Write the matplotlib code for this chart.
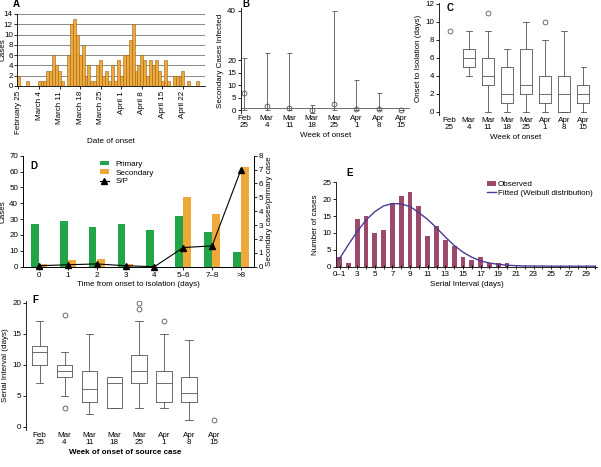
import numpy as np
import matplotlib.pyplot as plt

plt.rcParams['font.family'] = ['Liberation Sans', 'DejaVu Sans']
plt.rcParams['font.size'] = 5.8
plt.rcParams['axes.linewidth'] = 0.6
plt.rcParams['xtick.major.width'] = 0.6
plt.rcParams['ytick.major.width'] = 0.6
plt.rcParams['xtick.major.size'] = 2
plt.rcParams['ytick.major.size'] = 2
plt.rcParams['xtick.major.pad'] = 1.5
plt.rcParams['ytick.major.pad'] = 1.5
plt.rcParams['axes.labelpad'] = 2

# ---- data ----
# A: daily cases from February 25
a_cases = [2, 0, 0, 1, 0, 0, 0, 1, 1, 1, 3, 3, 6, 4, 3, 1, 0, 6, 12, 13, 10, 6, 8, 2,
           4, 1, 1, 4, 5, 2, 3, 1, 4, 1, 5, 2, 6, 6, 9, 12, 3, 4, 6, 5, 2, 5, 4, 5,
           3, 1, 5, 1, 0, 2, 2, 2, 3, 0, 1, 0, 0, 1]
a_tick_days = [0, 7, 14, 21, 28, 35, 42, 49, 56]
a_tick_labels = ['February 25', 'March 4', 'March 11', 'March 18', 'March 25',
                 'April 1', 'April 8', 'April 15', 'April 22']

weeks = ['Feb\n25', 'Mar\n4', 'Mar\n11', 'Mar\n18', 'Mar\n25', 'Apr\n1', 'Apr\n8', 'Apr\n15']

# B: secondary cases infected per week of onset
b_med = [7, 1.5, 1, 0, 2.5, 0.5, 0.5, 0]
b_low = [0, 0, 0, -1, 0, 0, 0, 0]
b_high = [21, 23, 23, 2, 40, 12, 7, 0]

# C: onset to isolation boxes (Mar 4 .. Apr 15), Feb 25 single value
c_lo = [4, 0, 0, 0, 0, 0, 0]
c_q1 = [5, 3, 1, 2, 1, 0, 1]
c_med = [6, 4, 2, 3, 2, 2, 2]
c_q3 = [7, 6, 5, 7, 4, 4, 3]
c_hi = [9, 9, 7, 10, 8, 9, 5]
c_out = [[], [11], [], [], [10], [], []]
c_single = 9

# D
d_cats = ['0', '1', '2', '3', '4', '5\u20136', '7\u20138', '>8']
d_primary = [27, 29, 25, 27, 23, 32, 22, 9]
d_secondary = [2, 4, 5, 2, 0, 44, 33, 63]
d_ratio = [0.07, 0.14, 0.2, 0.07, 0, 1.38, 1.5, 7.0]

# E
e_days = list(range(1, 21))
e_obs = [3, 1, 14, 15, 10, 11, 19, 21, 22, 18, 9, 12, 8, 6, 3, 2, 3, 1, 1, 1]
e_fit_x = [0.9, 2, 3, 4, 5, 6, 7, 8, 9, 10, 11, 12, 13, 14, 15, 16, 17, 18, 19, 20,
           21, 22, 24, 26, 28, 30]
e_fit_y = [2, 6.5, 10.4, 13.8, 16.3, 18, 18.7, 18.6, 17.8, 16, 14, 11.5, 8.8, 6.3,
           4.3, 2.8, 1.7, 1.1, 0.7, 0.45, 0.3, 0.22, 0.18, 0.15, 0.15, 0.15]
e_ticks = list(range(1, 30, 2))
e_tick_labels = ['0\u20131'] + [str(v) for v in range(3, 30, 2)]

# F: serial interval boxes (Feb 25 .. Apr 8), Apr 15 single value
f_lo = [7, 5, 2, 3, 3, 3, 1]
f_q1 = [10, 8, 4, 3, 7, 4, 4]
f_med = [12, 9, 6, 7, 9, 7, 5.5]
f_q3 = [13, 10, 9, 8, 11.5, 9, 8]
f_hi = [17, 12, 15, 8, 17, 15, 14]
f_out = [[], [18, 3], [], [], [19, 20], [17], []]
f_single = 1

W, H = 601, 467
fig = plt.figure(figsize=(W / 100, H / 100), dpi=100)


def box(l, t, r, b):
    return [l / W, 1 - b / H, (r - l) / W, (b - t) / H]


gray = '#555555'
orange = '#EFA93A'
green = '#22A548'

# ---- A ----
ax = fig.add_axes(box(17, 14, 205, 86))
ax.bar(range(len(a_cases)), a_cases, width=1.0, color=orange, edgecolor='#9A6418', lw=0.4)
for y in range(2, 16, 2):
    ax.axhline(y, color='#777777', lw=0.6, zorder=0)
ax.set_ylim(0, 14)
ax.set_xlim(-0.5, 63.5)
ax.set_yticks(range(0, 16, 2))
ax.tick_params(axis='y', pad=1)
ax.set_xticks(a_tick_days)
ax.set_xticklabels(a_tick_labels, rotation=90)
ax.set_ylabel('Cases')
ax.yaxis.set_label_coords(-0.057, 0.5)
ax.set_xlabel('Date of onset', labelpad=3)
for s in ['top', 'right']:
    ax.spines[s].set_visible(False)
ax.text(-0.02, 1.1, 'A', transform=ax.transAxes, fontsize=7, fontweight='bold')

# ---- B ----
ax = fig.add_axes(box(241, 8.5, 410, 112.5))
x = np.arange(len(weeks))
ax.axhline(1, color=gray, lw=0.6)
ax.errorbar(x, b_med, yerr=[np.array(b_med) - np.array(b_low), np.array(b_high) - np.array(b_med)],
            fmt='o', mfc='none', mec=gray, ms=3.5, ecolor=gray, elinewidth=0.6, capsize=1.8,
            capthick=0.6, mew=0.6)
ax.set_ylim(-1, 41)
ax.set_xlim(-0.15, 7.4)
ax.set_yticks([0, 5, 10, 15, 20, 40])
ax.set_xticks(x)
ax.set_xticklabels(weeks, linespacing=1.1)
ax.tick_params(axis='x', length=0)
ax.set_ylabel('Secondary Cases Infected')
ax.set_xlabel('Week of onset')
for s in ['top', 'right', 'bottom']:
    ax.spines[s].set_visible(False)
ax.text(0.01, 1.01, 'B', transform=ax.transAxes, fontsize=7, fontweight='bold')

# ---- C ----
ax = fig.add_axes(box(439, 3, 592, 114.7))
stats = [dict(whislo=c_lo[i], q1=c_q1[i], med=c_med[i], q3=c_q3[i], whishi=c_hi[i],
              fliers=c_out[i]) for i in range(len(c_lo))]
bp_kw = dict(widths=0.62, capwidths=0.3,
             boxprops=dict(color=gray, lw=0.6), medianprops=dict(color=gray, lw=0.6),
             whiskerprops=dict(color=gray, lw=0.6), capprops=dict(color=gray, lw=0.6),
             flierprops=dict(marker='o', mfc='none', mec=gray, ms=3.5, mew=0.6))
ax.bxp(stats, positions=range(1, 8), **bp_kw)
ax.plot([0], [c_single], 'o', mfc='none', mec=gray, ms=3.5, mew=0.6)
ax.set_ylim(-0.3, 12.1)
ax.set_xlim(-0.55, 7.45)
ax.set_yticks(range(0, 13, 2))
ax.set_xticks(range(8))
ax.set_xticklabels(weeks, linespacing=1.1)
ax.tick_params(axis='x', length=0)
ax.set_ylabel('Onset to Isolation (days)')
ax.set_xlabel('Week of onset')
for s in ['top', 'right', 'bottom']:
    ax.spines[s].set_visible(False)
ax.text(0.05, 0.93, 'C', transform=ax.transAxes, fontsize=7, fontweight='bold')

# ---- D ----
ax = fig.add_axes(box(23, 155.7, 254, 266.7))
x = np.arange(len(d_cats))
ax.bar(x - 0.14, d_primary, width=0.27, color=green, label='Primary')
ax.bar(x + 0.14, d_secondary, width=0.27, color=orange, label='Secondary')
ax.set_ylim(0, 70)
ax.set_xlim(-0.55, 7.45)
ax.set_yticks(range(0, 80, 10))
ax.set_xticks(x)
ax.set_xticklabels(d_cats)
ax.set_ylabel('Cases')
ax.set_xlabel('Time from onset to isolation (days)')
ax.spines['top'].set_visible(False)
ax2 = ax.twinx()
ax2.plot(x, d_ratio, '-^', color='black', lw=0.8, ms=4, label='S/P', clip_on=False)
ax2.set_ylim(0, 8)
ax2.set_yticks(range(0, 9))
ax2.set_ylabel('Secondary cases/primary case')
ax2.spines['top'].set_visible(False)
h1, l1 = ax.get_legend_handles_labels()
h2, l2 = ax2.get_legend_handles_labels()
ax.legend(h1 + h2, l1 + l2, loc='upper left', bbox_to_anchor=(0.3, 1.02), frameon=False,
          handlelength=1.2, handleheight=0.5, labelspacing=0.2, fontsize=5.8)
ax.text(0.03, 0.88, 'D', transform=ax.transAxes, fontsize=7, fontweight='bold')

# ---- E ----
ax = fig.add_axes(box(336, 182.3, 597, 266.7))
bars = ax.bar(e_days, e_obs, width=0.55, color='#9C4A6B', label='Observed')
line, = ax.plot(e_fit_x, e_fit_y, color='#4A3C96', lw=1.0, label='Fitted (Weibull distribution)')
ax.set_ylim(0, 25)
ax.set_xlim(0.6, 30.2)
ax.set_yticks(range(0, 30, 5))
ax.set_xticks(e_ticks)
ax.set_xticklabels(e_tick_labels)
ax.set_xticks(range(1, 31), minor=True)
ax.tick_params(axis='x', which='both', direction='inout', length=3, width=0.6)
ax.set_ylabel('Number of cases')
ax.set_xlabel('Serial Interval (days)')
for s in ['top', 'right']:
    ax.spines[s].set_visible(False)
ax.legend([bars, line], ['Observed', 'Fitted (Weibull distribution)'], loc='upper left',
          bbox_to_anchor=(0.55, 1.1), frameon=False, handlelength=1.2, handleheight=0.5,
          handletextpad=0.2, labelspacing=0.2, fontsize=5.8)
ax.text(0.04, 1.08, 'E', transform=ax.transAxes, fontsize=7, fontweight='bold')

# ---- F ----
ax = fig.add_axes(box(26, 300.8, 225, 429.8))
stats = [dict(whislo=f_lo[i], q1=f_q1[i], med=f_med[i], q3=f_q3[i], whishi=f_hi[i],
              fliers=f_out[i]) for i in range(len(f_lo))]
ax.bxp(stats, positions=range(7), **bp_kw)
ax.plot([7], [f_single], 'o', mfc='none', mec=gray, ms=3.5, mew=0.6)
ax.set_ylim(-0.5, 20.3)
ax.set_xlim(-0.55, 7.45)
ax.set_yticks(range(0, 25, 5))
ax.set_xticks(range(8))
ax.set_xticklabels(weeks, linespacing=1.1)
ax.tick_params(axis='x', length=0)
ax.set_ylabel('Serial Interval (days)')
ax.set_xlabel('Week of onset of source case', fontweight='bold')
for s in ['top', 'right', 'bottom']:
    ax.spines[s].set_visible(False)
ax.text(0.03, 0.98, 'F', transform=ax.transAxes, fontsize=7, fontweight='bold')

fig.savefig('out.png', dpi=100)
